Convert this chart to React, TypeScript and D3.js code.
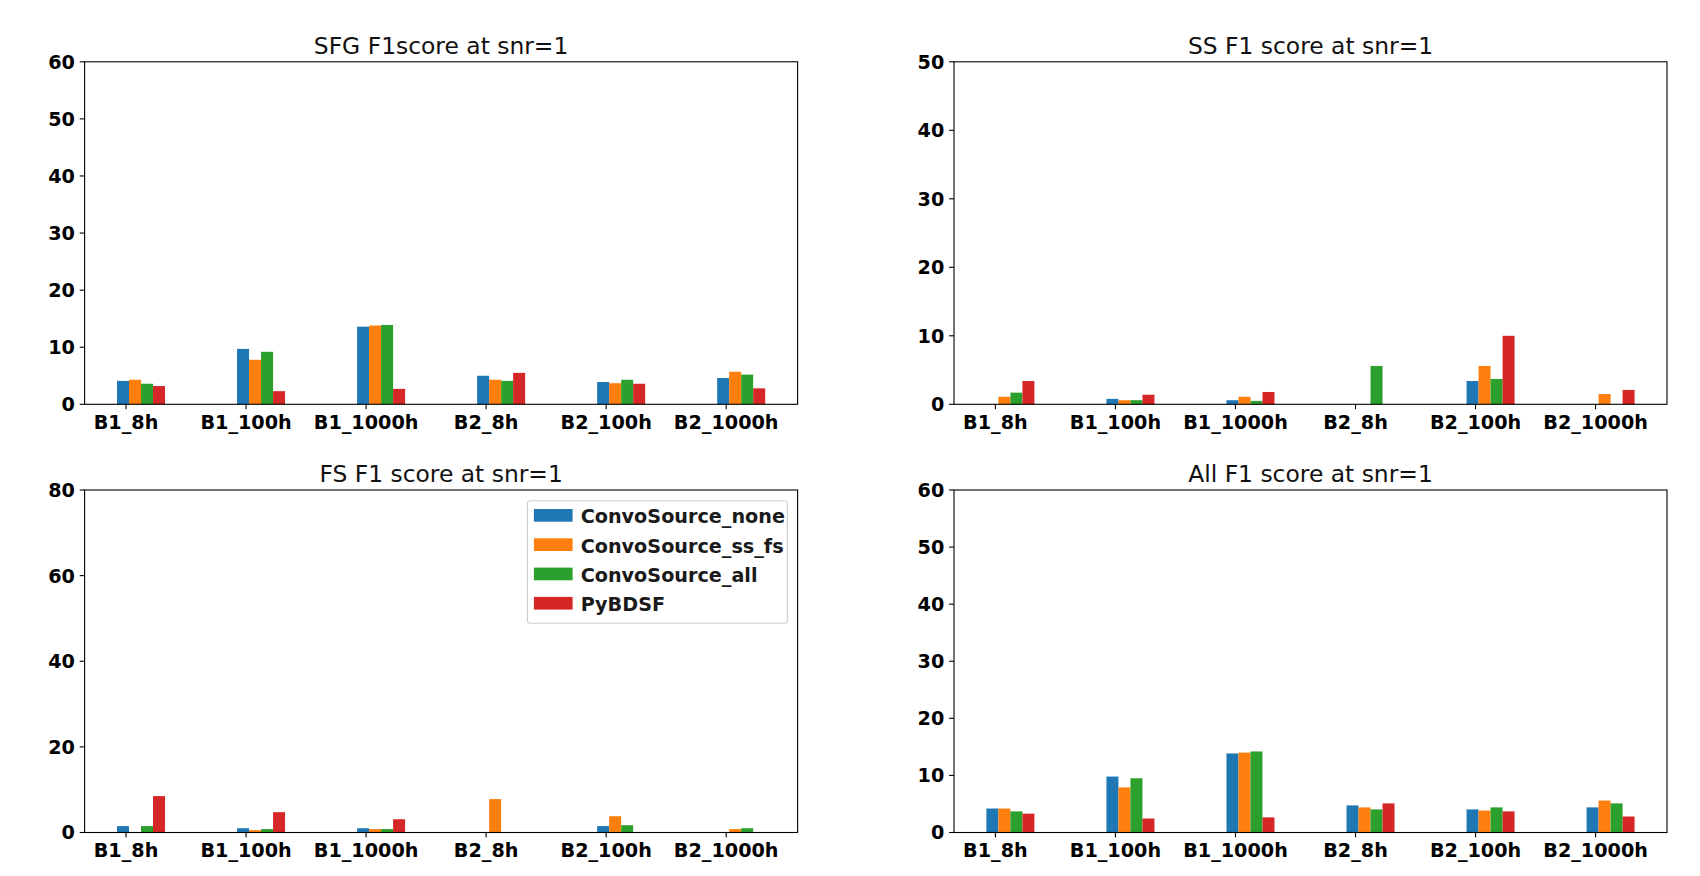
import * as d3 from 'd3';

const WIDTH = 1700;
const HEIGHT = 876;

// panel geometry (pixels)
const PANEL_W = 713;
const PANEL_H = 342.5;
const COL_X = [84.6, 954];
const ROW_Y = [61.8, 490];

const COLORS = ['#1f77b4', '#ff7f0e', '#2ca02c', '#d62728'];
const BAR_W = 0.1;
const BAR_START = -0.075;

const categories = ['B1_8h', 'B1_100h', 'B1_1000h', 'B2_8h', 'B2_100h', 'B2_1000h'];
const seriesNames = ['ConvoSource_none', 'ConvoSource_ss_fs', 'ConvoSource_all', 'PyBDSF'];

// SFG
const sfgNone = [4.1, 9.7, 13.6, 5.0, 3.9, 4.6];
const sfgSsFs = [4.3, 7.8, 13.8, 4.3, 3.7, 5.7];
const sfgAll = [3.6, 9.2, 13.9, 4.1, 4.3, 5.2];
const sfgPy = [3.2, 2.3, 2.7, 5.5, 3.6, 2.8];

// SS
const ssNone = [0, 0.8, 0.6, 0, 3.4, 0];
const ssSsFs = [1.1, 0.6, 1.1, 0, 5.6, 1.5];
const ssAll = [1.7, 0.6, 0.5, 5.6, 3.7, 0];
const ssPy = [3.4, 1.4, 1.8, 0, 10.0, 2.1];

// FS
const fsNone = [1.5, 1.0, 1.0, 0, 1.5, 0];
const fsSsFs = [0, 0.55, 0.8, 7.8, 3.8, 0.8];
const fsAll = [1.5, 0.8, 0.8, 0, 1.7, 1.0];
const fsPy = [8.5, 4.75, 3.1, 0, 0, 0];

// All
const allNone = [4.2, 9.8, 13.85, 4.75, 4.05, 4.4];
const allSsFs = [4.2, 7.9, 14.0, 4.4, 3.85, 5.6];
const allAll = [3.7, 9.5, 14.2, 4.05, 4.4, 5.1];
const allPy = [3.3, 2.45, 2.65, 5.1, 3.7, 2.8];

const sfgTicks = [0, 10, 20, 30, 40, 50, 60];
const ssTicks = [0, 10, 20, 30, 40, 50];
const fsTicks = [0, 20, 40, 60, 80];
const allTicks = [0, 10, 20, 30, 40, 50, 60];

const FONT = '"DejaVu Sans", sans-serif';
const TICK_SIZE = 19.2;

type PanelProps = {
    x: number;
    y: number;
    title: string;
    ticks: number[];
    series: number[][];
    legend?: boolean;
};

const Legend = ({ right, top }: { right: number; top: number }) => {
    const boxW = 260;
    const boxH = 122.6;
    const x0 = right - 10.2 - boxW;
    const y0 = top + 10.7;
    return (
        <g>
            <rect x={x0} y={y0} width={boxW} height={boxH} rx={3} fill="white" fillOpacity={0.8} stroke="#cccccc" strokeWidth={1.1} />
            {seriesNames.map((name, i) => {
                const py = y0 + 8.3 + i * 29.3;
                return (
                    <g key={name}>
                        <rect x={x0 + 6.5} y={py} width={38.7} height={12.7} fill={COLORS[i]} />
                        <text x={x0 + 53.3} y={py + 14.2} fontSize={19.2} fontWeight="bold" fontFamily={FONT} fill="#1a1a1a">
                            {name}
                        </text>
                    </g>
                );
            })}
        </g>
    );
};

const Panel = ({ x, y, title, ticks, series, legend }: PanelProps) => {
    const xScale = d3.scaleLinear().domain([-0.345, 5.595]).range([0, PANEL_W]);
    const yMax = d3.max(ticks) ?? 60;
    const yScale = d3.scaleLinear().domain([0, yMax]).range([PANEL_H, 0]);
    const bw = xScale(BAR_W) - xScale(0);

    const bars = series.map((values, s) =>
        values.map((v, i) => (
            <rect
                key={`${s}-${i}`}
                x={xScale(i + BAR_START + s * BAR_W)}
                y={yScale(v)}
                width={bw}
                height={PANEL_H - yScale(v)}
                fill={COLORS[s]}
            />
        ))
    );

    return (
        <g transform={`translate(${x},${y})`}>
            {bars}
            <rect x={0} y={0} width={PANEL_W} height={PANEL_H} fill="none" stroke="black" strokeWidth={1.1} />
            {ticks.map((t) => (
                <g key={t} transform={`translate(0,${yScale(t)})`}>
                    <line x1={-4.9} x2={0} stroke="black" strokeWidth={1.1} />
                    <text x={-9.7} dy="0.36em" textAnchor="end" fontSize={TICK_SIZE} fontWeight="bold" fontFamily={FONT}>
                        {t}
                    </text>
                </g>
            ))}
            {categories.map((c, i) => (
                <g key={c} transform={`translate(${xScale(i)},${PANEL_H})`}>
                    <line y1={0} y2={4.9} stroke="black" strokeWidth={1.1} />
                    <text y={24.5} textAnchor="middle" fontSize={TICK_SIZE} fontWeight="bold" fontFamily={FONT}>
                        {c}
                    </text>
                </g>
            ))}
            <text x={PANEL_W / 2} y={-8.3} textAnchor="middle" fontSize={23.4} fontFamily={FONT} fill="#111">
                {title}
            </text>
            {legend && <Legend right={PANEL_W} top={0} />}
        </g>
    );
};

export default function App() {
    return (
        <svg width={WIDTH} height={HEIGHT} style={{ position: 'absolute', left: 0, top: 0, background: 'white' }}>
            <rect width={WIDTH} height={HEIGHT} fill="white" />
            <Panel x={COL_X[0]} y={ROW_Y[0]} title="SFG F1score at snr=1" ticks={sfgTicks} series={[sfgNone, sfgSsFs, sfgAll, sfgPy]} />
            <Panel x={COL_X[1]} y={ROW_Y[0]} title="SS F1 score at snr=1" ticks={ssTicks} series={[ssNone, ssSsFs, ssAll, ssPy]} />
            <Panel x={COL_X[0]} y={ROW_Y[1]} title="FS F1 score at snr=1" ticks={fsTicks} series={[fsNone, fsSsFs, fsAll, fsPy]} legend />
            <Panel x={COL_X[1]} y={ROW_Y[1]} title="All F1 score at snr=1" ticks={allTicks} series={[allNone, allSsFs, allAll, allPy]} />
        </svg>
    );
}
